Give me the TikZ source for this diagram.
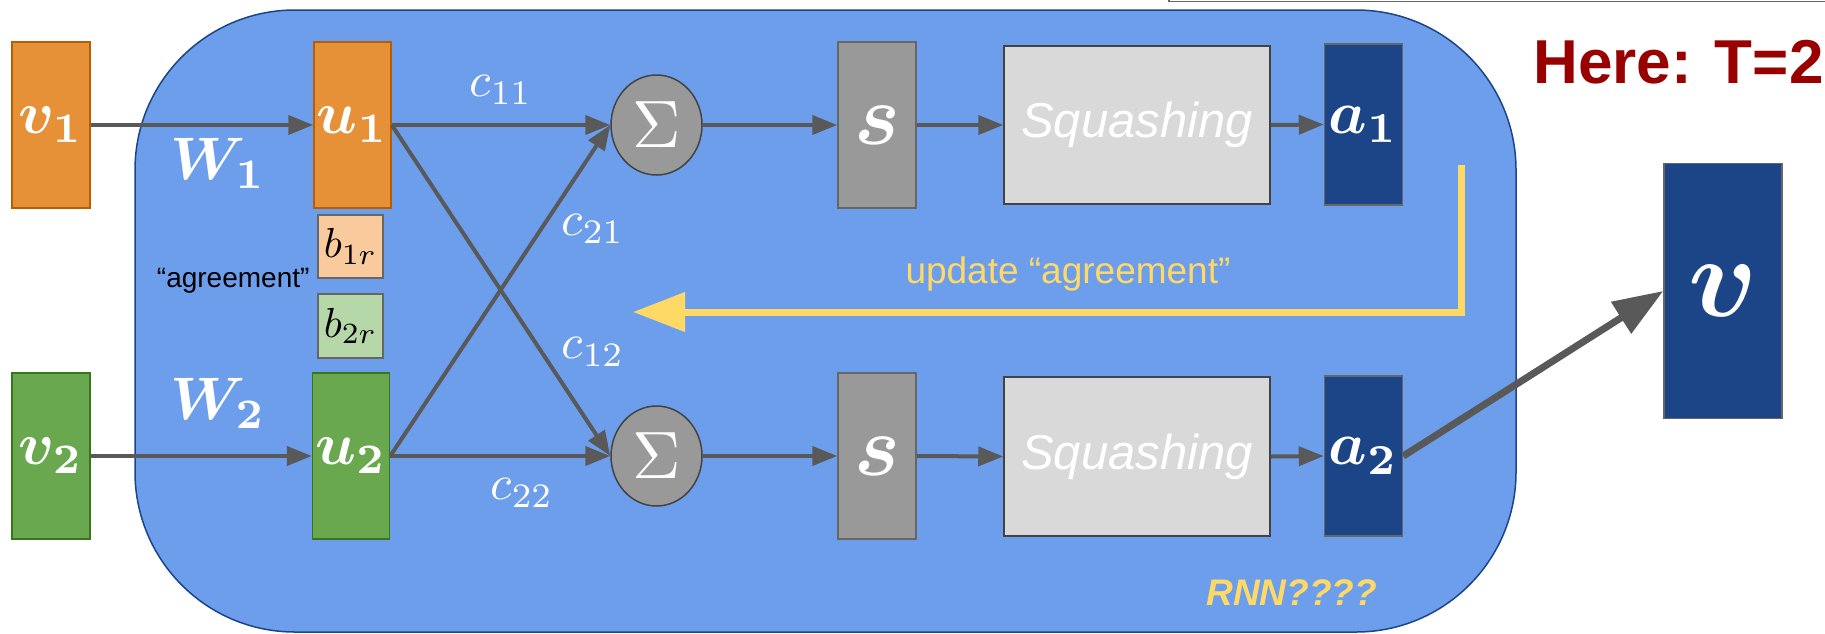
\documentclass[tikz,border=0pt]{standalone}
\usepackage{bm}
\usepackage{fontspec}
\newfontfamily\arialfont{Liberation Sans}
\usetikzlibrary{arrows.meta,shapes.geometric}

\definecolor{capsblue}{HTML}{6D9EEB}
\definecolor{navy}{HTML}{1C4587}
\definecolor{orangefill}{HTML}{E69138}
\definecolor{orangeline}{HTML}{B45F06}
\definecolor{greenfill}{HTML}{6AA84F}
\definecolor{greenline}{HTML}{38761D}
\definecolor{peach}{HTML}{F9CB9C}
\definecolor{mint}{HTML}{B6D7A8}
\definecolor{midgray}{HTML}{999999}
\definecolor{lightgray}{HTML}{D9D9D9}
\definecolor{edgegray}{HTML}{666666}
\definecolor{darkedge}{HTML}{434343}
\definecolor{arrowgray}{HTML}{595959}
\definecolor{gold}{HTML}{FFD966}
\definecolor{deepred}{HTML}{990000}

\newcommand{\setfs}[1]{\fontsize{#1}{#1}\selectfont}
% math set at 10pt and enlarged, so sub/superscripts keep their small-size shapes
\newcommand{\bigmath}[2]{\scalebox{#1}{$#2$}}

\tikzset{
  vecbox/.style={rectangle, draw, line width=1.5pt, inner sep=0pt,
    minimum width=78pt, minimum height=166pt, text=white},
  inbox/.style={vecbox, fill=orangefill, draw=orangeline},
  inboxb/.style={vecbox, fill=greenfill, draw=greenline},
  coefbox/.style={rectangle, draw=edgegray, line width=1.5pt, inner sep=0pt,
    minimum width=65pt, minimum height=63pt},
  sumnode/.style={ellipse, draw=darkedge, fill=midgray, line width=1.5pt,
    inner sep=0pt, minimum width=91pt, minimum height=100pt, text=white},
  sbox/.style={vecbox, fill=midgray, draw=edgegray},
  squashbox/.style={rectangle, draw=darkedge, fill=lightgray, line width=1.5pt,
    inner sep=0pt, minimum width=266pt, minimum height=158pt, text=white,
    font=\arialfont\itshape\setfs{49}},
  outbox/.style={vecbox, fill=navy, draw=edgegray, minimum height=161pt},
  flow/.style={draw=arrowgray, line width=4pt,
    -{Triangle[length=25pt,width=19pt]}},
  bigflow/.style={draw=arrowgray, line width=7pt,
    -{Triangle[length=50pt,width=36pt]}},
  feedback/.style={draw=gold, line width=7pt, line join=miter,
    -{Triangle[length=52pt,width=38pt]}},
  weight/.style={text=white, inner sep=0pt},
  coupling/.style={text=white, inner sep=0pt},
}

\begin{document}
\begin{tikzpicture}[x=1pt,y=-1pt]
\useasboundingbox (0,0) rectangle (1825,633);

% edge of the frame above
\draw[edgegray, line width=1.2pt] (1169,-2) -- (1169,1.5) -- (1830,1.5);

% routing block
\draw[fill=capsblue, draw=navy, line width=1.5pt, rounded corners=160pt]
  (135,10) rectangle (1516,632);

% inputs and predictions
\node[inbox] (v1) at (51,125) {\bigmath{6.0}{\bm{v_1}}};
\node[inboxb] (v2) at (51,456) {\bigmath{6.0}{\bm{v_2}}};
\node[inbox, minimum width=77pt] (u1) at (352.5,125) {\bigmath{6.0}{\bm{u_1}}};
\node[inboxb, minimum width=77pt] (u2) at (351,456) {\bigmath{6.0}{\bm{u_2}}};

% routing logits
\node[coefbox, fill=peach] (b1) at (350.5,246.5) {\bigmath{4.2}{b_{1r}}};
\node[coefbox, fill=mint, minimum height=64pt] (b2) at (350.5,326) {\bigmath{4.2}{b_{2r}}};
\node[anchor=base east, font=\arialfont\setfs{28}] (agr) at (313,287) {“agreement”};

% weighted sums
\node[sumnode] (sig1) at (656.5,125) {\bigmath{6.7}{\Sigma}};
\node[sumnode] (sig2) at (656.5,456) {\bigmath{6.7}{\Sigma}};

\node[sbox] (s1) at (877,125) {\bigmath{8.6}{\bm{s}}};
\node[sbox] (s2) at (877,456) {\bigmath{8.6}{\bm{s}}};

\node[squashbox] (sq1) at (1137,125) {\raisebox{-5pt}{Squashing}};
\node[squashbox, minimum height=159pt] (sq2) at (1137,456.5) {\raisebox{-5pt}{Squashing}};

\node[outbox] (a1) at (1363.5,124.5) {\bigmath{6.1}{\bm{a_1}}};
\node[outbox, minimum height=160pt] (a2) at (1363.5,456) {\bigmath{6.1}{\bm{a_2}}};

\node[outbox, minimum width=118pt, minimum height=255pt]
  (vout) at (1723,291) {\bigmath{11.5}{\bm{v}}};

% labels
\node[weight] (w1) at (218,163) {\bigmath{6.0}{\bm{W_1}}};
\node[weight] (w2) at (218,403) {\bigmath{6.0}{\bm{W_2}}};
\node[coupling] (c11) at (501,90) {\bigmath{4.9}{c_{11}}};
\node[coupling] (c21) at (593,229) {\bigmath{4.9}{c_{21}}};
\node[coupling] (c12) at (593,352) {\bigmath{4.9}{c_{12}}};
\node[coupling] (c22) at (522,493) {\bigmath{4.9}{c_{22}}};

\node[anchor=base, text=gold, font=\arialfont\setfs{37}] (upd) at (1068,283)
  {update “agreement”};
\node[anchor=base west, text=gold, font=\arialfont\bfseries\itshape\setfs{37}]
  (rnn) at (1203,605) {RNN????};
\node[anchor=base west, text=deepred, font=\arialfont\bfseries\setfs{62}]
  (title) at (1530,83.5) {Here: T=2};

% connections
\draw[flow] (v1.east) -- (u1.west);
\draw[flow] (v2.east) -- (u2.west);
\draw[flow] (u1.east) -- (sig1.west);
\draw[flow] (u1.east) -- (sig2.west);
\draw[flow] (u2.east) -- (sig1.west);
\draw[flow] (u2.east) -- (sig2.west);
\draw[flow] (sig1.east) -- (s1.west);
\draw[flow] (sig2.east) -- (s2.west);
\draw[flow] (s1.east) -- (sq1.west);
\draw[flow] (s2.east) -- (sq2.west);
\draw[flow] (sq1.east) -- (a1.west);
\draw[flow] (sq2.east) -- (a2.west);
\draw[bigflow] (a2.east) -- (vout.west);

% agreement feedback loop
\coordinate (fbstart) at (1461,165);
\coordinate (fbend) at (633,312);
\draw[feedback] (fbstart) |- (fbend);
\end{tikzpicture}
\end{document}
